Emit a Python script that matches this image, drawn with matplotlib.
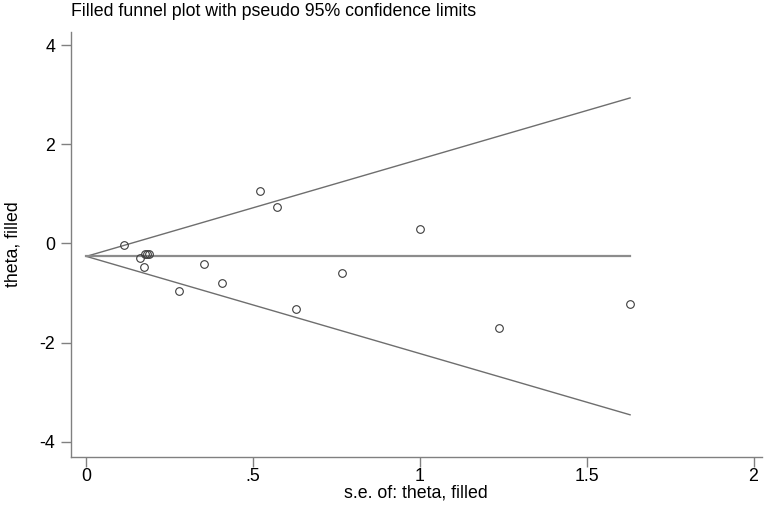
import matplotlib.pyplot as plt
import numpy as np

plt.rcParams['font.family'] = ['Liberation Sans', 'DejaVu Sans']
plt.rcParams['axes.unicode_minus'] = False

# study standard errors and effect sizes
se = [0.112, 0.160, 0.175, 0.181, 0.187, 0.172, 0.278, 0.353, 0.406,
      0.520, 0.571, 0.630, 0.767, 1.000, 1.237, 1.630]
theta = [-0.04, -0.30, -0.22, -0.21, -0.22, -0.47, -0.96, -0.41, -0.79,
         1.06, 0.73, -1.33, -0.59, 0.29, -1.71, -1.23]
pooled = -0.26
se_max = 1.630

x_ticks = [0, 0.5, 1, 1.5, 2]
x_tick_labels = ['0', '.5', '1', '1.5', '2']
y_ticks = [-4, -2, 0, 2, 4]

fs = 12.8

fig = plt.figure(figsize=(7.68, 5.05), dpi=100)
ax = fig.add_axes([0.092, 0.0956, 0.9, 0.8416])

s_line = np.array([0, se_max])
ax.plot(s_line, pooled + 1.96 * s_line, color='#6e6e6e', lw=1.0)
ax.plot(s_line, pooled - 1.96 * s_line, color='#6e6e6e', lw=1.0)
ax.plot(s_line, [pooled, pooled], color='#8c8c8c', lw=1.6)

ax.plot(se, theta, 'o', mfc='none', mec='#3c3c3c', mew=0.8, ms=5.5, ls='none')

ax.set_xlim(-0.047, 2.025)
ax.set_ylim(-4.3, 4.27)
ax.set_xticks(x_ticks)
ax.set_xticklabels(x_tick_labels)
ax.set_yticks(y_ticks)

for side in ['top', 'right']:
    ax.spines[side].set_visible(False)
for side in ['left', 'bottom']:
    ax.spines[side].set_color('#808080')
    ax.spines[side].set_linewidth(1.0)
ax.tick_params(axis='both', direction='out', length=7, width=1.0,
               color='#808080', labelsize=fs, labelcolor='black')
ax.tick_params(axis='y', pad=4)
ax.tick_params(axis='x', pad=1)

ax.set_xlabel('s.e. of: theta, filled', fontsize=fs, labelpad=0)
ax.set_ylabel('theta, filled', fontsize=fs, labelpad=13)

fig.text(0.092, 0.994, 'Filled funnel plot with pseudo 95% confidence limits',
         fontsize=fs, ha='left', va='top')

fig.savefig('out.png', dpi=100)
